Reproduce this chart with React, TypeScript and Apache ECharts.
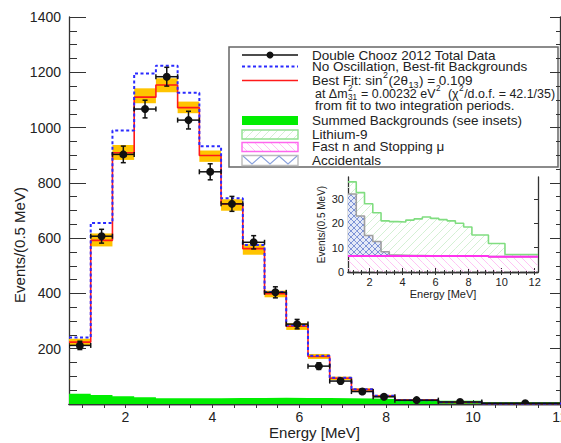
import React, { useEffect, useRef } from 'react';
import * as echarts from 'echarts';

// ---------- data ----------
const binEdges = [0.7, 1.2, 1.7, 2.2, 2.7, 3.2, 3.7, 4.2, 4.7, 5.2, 5.7, 6.2, 6.7, 7.2, 7.7, 8.2, 9.2, 10.2, 12.2];
const dataCenters = [0.95, 1.45, 1.95, 2.45, 2.95, 3.45, 3.95, 4.45, 4.95, 5.45, 5.95, 6.45, 6.95, 7.45, 7.95, 8.7, 9.7, 11.2];
const dataValues = [212, 607, 903, 1067, 1184, 1027, 840, 724, 585, 404, 289, 137, 83, 45, 26, 14, 7, 3];
const dataErrors = [15, 25, 30, 32, 34, 32, 29, 27, 24, 20, 17, 12, 9, 7, 5, 4, 3, 2];
const bestFit = [224, 592, 909, 1110, 1154, 1072, 899, 724, 562, 399, 281, 172, 93, 52, 29, 14, 6, 2];
const bandLow = [212, 570, 883, 1088, 1128, 1052, 876, 699, 540, 386, 268, 163, 87, 47, 26, 12, 5, 1.5];
const bandHigh = [236, 617, 937, 1142, 1178, 1094, 917, 741, 578, 410, 292, 181, 99, 57, 33, 16, 7, 2.5];
const noOscillation = [241, 655, 989, 1196, 1224, 1126, 932, 744, 575, 405, 285, 175, 95, 53, 30, 14, 6, 2];

// inset backgrounds (events / 0.5 MeV), stacked: fast n at bottom, accidentals, lithium-9 on top
const fastN = [6.6, 6.6, 6.6, 6.6, 6.6, 6.6, 6.6, 6.6, 6.6, 6.6, 6.6, 6.6, 6.6, 6.6, 6.6, 6.6, 6.3, 6.3];
const accidentals = [25.4, 16.4, 8.4, 5.9, 1.7, 0.4, 0.3, 0.2, 0.2, 0.1, 0.1, 0.1, 0.1, 0.1, 0, 0, 0, 0];
const lithium9 = [5.0, 9.6, 13.0, 11.8, 12.7, 13.7, 13.6, 14.5, 15.0, 15.9, 15.3, 14.8, 14.3, 13.3, 11.9, 8.6, 5.4, 0.9];

const mainXLabels = [2, 4, 6, 8, 10, 12];
const halfTicks = [1, 1.5, 2, 2.5, 3, 3.5, 4, 4.5, 5, 5.5, 6, 6.5, 7, 7.5, 8, 8.5, 9, 9.5, 10, 10.5, 11, 11.5, 12];
const insetYLabels = [0, 10, 20, 30];
const insetYTicks = [10, 20, 30];

const legendLabels = [
  'Double Chooz 2012 Total Data',
  'No Oscillation, Best-fit Backgrounds',
  'from fit to two integration periods.',
  'Summed Backgrounds (see insets)',
  'Lithium-9',
  'Fast n and Stopping μ',
  'Accidentals',
];

// ---------- helpers ----------
function stepPoints(edges: number[], values: number[]) {
  const pts: number[][] = [];
  for (let i = 0; i < values.length; i++) {
    pts.push([edges[i], values[i]]);
    pts.push([edges[i + 1], values[i]]);
  }
  return pts;
}

function makePattern(size: number, bg: string | null, color: string, dirs: number[], lw = 1) {
  const c = document.createElement('canvas');
  c.width = size;
  c.height = size;
  const ctx = c.getContext('2d')!;
  if (bg) {
    ctx.fillStyle = bg;
    ctx.fillRect(0, 0, size, size);
  }
  ctx.strokeStyle = color;
  ctx.lineWidth = lw;
  dirs.forEach((d) => {
    for (let k = -1; k <= 1; k++) {
      ctx.beginPath();
      if (d > 0) {
        ctx.moveTo(k * size, size);
        ctx.lineTo(k * size + size, 0);
      } else {
        ctx.moveTo(k * size, 0);
        ctx.lineTo(k * size + size, size);
      }
      ctx.stroke();
    }
  });
  return { image: c, repeat: 'repeat', imageWidth: size, imageHeight: size } as any;
}

const FONT = 'Liberation Sans, Arial, Helvetica, sans-serif';
const TXT = '#222';

// build a line of text with super/subscripts as separate text elements
type Piece = { t?: string; sup?: string; sub?: string };
function formulaLine(pieces: Piece[], x0: number, y: number, size: number, maxWidth: number) {
  const ctx = document.createElement('canvas').getContext('2d')!;
  const w = (t: string, s: number) => {
    ctx.font = `${s}px ${FONT}`;
    return ctx.measureText(t).width;
  };
  const total = (sz: number) => {
    const sm = sz * 0.66;
    let tw = 0;
    pieces.forEach((p) => {
      if (p.t) tw += w(p.t, sz);
      else tw += Math.max(p.sup ? w(p.sup, sm) : 0, p.sub ? w(p.sub, sm) : 0) + 1;
    });
    return tw;
  };
  let sz = size;
  const tw = total(sz);
  if (tw > maxWidth) sz = (size * maxWidth) / tw;
  const sm = sz * 0.66;
  const els: any[] = [];
  let x = x0;
  pieces.forEach((p) => {
    if (p.t) {
      els.push({ type: 'text', x, y, style: { text: p.t, fontSize: sz, fontFamily: FONT, fill: TXT, align: 'left', verticalAlign: 'middle' } });
      x += w(p.t, sz);
    } else {
      if (p.sup) els.push({ type: 'text', x: x + 0.5, y: y - sz * 0.38, style: { text: p.sup, fontSize: sm, fontFamily: FONT, fill: TXT, align: 'left', verticalAlign: 'middle' } });
      if (p.sub) els.push({ type: 'text', x: x + 0.5, y: y + sz * 0.36, style: { text: p.sub, fontSize: sm, fontFamily: FONT, fill: TXT, align: 'left', verticalAlign: 'middle' } });
      x += Math.max(p.sup ? w(p.sup, sm) : 0, p.sub ? w(p.sub, sm) : 0) + 1;
    }
  });
  return els;
}

export default function App() {
  const ref = useRef<HTMLDivElement>(null);

  useEffect(() => {
    const chart = echarts.init(ref.current!, undefined, { renderer: 'svg' });

    const li9Pattern = makePattern(8, null, '#d4f0d4', [1]);
    const pinkPattern = makePattern(8, null, '#ffc4f4', [-1]);
    const accPattern = makePattern(6, '#e4e9f7', '#7d93d6', [1, -1]);

    const summedBg = fastN.map((f, i) => f + accidentals[i] + lithium9[i]);
    const accTop = fastN.map((f, i) => f + accidentals[i]);

    const rectSeries = (lo: number[], hi: number[], fill: any, xi: number, yi: number, z: number) => ({
      type: 'custom',
      xAxisIndex: xi,
      yAxisIndex: yi,
      z,
      silent: true,
      clip: true,
      data: lo.map((l, i) => [binEdges[i], binEdges[i + 1], l, hi[i]]),
      encode: { x: [0, 1], y: [2, 3] },
      renderItem: (params: any, api: any) => {
        const p0 = api.coord([api.value(0), api.value(3)]);
        const p1 = api.coord([api.value(1), api.value(2)]);
        return {
          type: 'rect',
          shape: { x: p0[0], y: p0[1], width: p1[0] - p0[0], height: p1[1] - p0[1] },
          style: { fill },
        };
      },
    });

    const axisLine = { show: true, lineStyle: { color: '#333', width: 1.3 } };
    const noSplit = { show: false };

    const row3 = formulaLine(
      [{ t: 'Best Fit: sin' }, { sup: '2' }, { t: '(2θ' }, { sub: '13' }, { t: ') = 0.109' }],
      312, 80.5, 13.5, 240,
    );
    const row4 = formulaLine(
      [
        { t: 'at Δm' }, { sup: '2', sub: '31' }, { t: ' = 0.00232 eV' }, { sup: '2' },
        { t: '  (χ' }, { sup: '2' }, { t: '/d.o.f. = 42.1/35)' },
      ],
      315, 93.5, 13.5, 240,
    );

    const legendText = (t: string, x: number, y: number) => ({
      type: 'text', x, y,
      style: { text: t, fontSize: 13.5, fontFamily: FONT, fill: TXT, align: 'left', verticalAlign: 'middle' },
    });

    const option: any = {
      animation: false,
      backgroundColor: '#fff',
      textStyle: { fontFamily: FONT },
      grid: [
        { left: 69, top: 17, right: 1, bottom: 39, containLabel: false, outerBoundsMode: 'none' },
        { left: 348, top: 177, width: 190, height: 95, containLabel: false, outerBoundsMode: 'none' },
      ],
      xAxis: [
        {
          gridIndex: 0, type: 'value', position: 'bottom', min: 0.7, max: 12,
          axisLine, splitLine: noSplit,
          axisTick: { show: true, inside: true, length: 4, customValues: mainXLabels, lineStyle: { color: '#333' } },
          axisLabel: { customValues: mainXLabels, fontSize: 14, color: TXT, margin: 6, fontFamily: FONT },
          name: 'Energy [MeV]', nameLocation: 'middle', nameGap: 21, nameMoveOverlap: false,
          nameTextStyle: { fontSize: 15, color: TXT, fontFamily: FONT },
        },
        {
          gridIndex: 0, type: 'value', position: 'top', min: 0.7, max: 12,
          axisLine, splitLine: noSplit,
          axisTick: { show: true, inside: true, length: 4, customValues: halfTicks, lineStyle: { color: '#333' } },
          axisLabel: { show: false },
        },
        {
          gridIndex: 1, type: 'value', position: 'bottom', min: 0.7, max: 12.2,
          axisLine, splitLine: noSplit,
          axisTick: { show: true, inside: true, length: 4, customValues: mainXLabels, lineStyle: { color: '#333' } },
          axisLabel: { customValues: mainXLabels, fontSize: 11, color: TXT, margin: 4, fontFamily: FONT },
          name: 'Energy [MeV]', nameLocation: 'middle', nameGap: 16, nameMoveOverlap: false,
          nameTextStyle: { fontSize: 11, color: TXT, fontFamily: FONT },
        },
        {
          gridIndex: 1, type: 'value', position: 'top', min: 0.7, max: 12.2,
          axisLine, splitLine: noSplit,
          axisTick: { show: true, inside: true, length: 3, customValues: halfTicks, lineStyle: { color: '#333' } },
          axisLabel: { show: false },
        },
        {
          gridIndex: 1, type: 'value', position: 'bottom', min: 0.7, max: 12.2,
          axisLine: { show: false }, splitLine: noSplit,
          axisTick: { show: true, inside: true, length: 2, customValues: halfTicks, lineStyle: { color: '#333' } },
          axisLabel: { show: false },
        },
      ],
      yAxis: [
        {
          gridIndex: 0, type: 'value', position: 'left', min: 0, max: 1400, interval: 200,
          axisLine, splitLine: noSplit,
          axisTick: { show: true, inside: true, length: 17, lineStyle: { color: '#333' } },
          minorTick: { show: true, splitNumber: 4, length: 8, lineStyle: { color: '#333' } },
          axisLabel: { fontSize: 14, color: TXT, margin: 8, fontFamily: FONT, formatter: (v: number) => (v === 0 ? '' : String(v)) },
        },
        {
          gridIndex: 0, type: 'value', position: 'right', min: 0, max: 1400, interval: 200,
          axisLine, splitLine: noSplit,
          axisTick: { show: true, inside: true, length: 10, lineStyle: { color: '#333' } },
          minorTick: { show: true, splitNumber: 4, length: 4, lineStyle: { color: '#333' } },
          axisLabel: { show: false },
        },
        {
          gridIndex: 1, type: 'value', position: 'left', min: 0, max: 39,
          axisLine, splitLine: noSplit,
          axisTick: { show: true, inside: true, length: 4, customValues: insetYTicks, lineStyle: { color: '#333' } },
          axisLabel: { customValues: insetYLabels, fontSize: 11, color: TXT, margin: 4, fontFamily: FONT },
          name: 'Events/(0.5 MeV)', nameLocation: 'middle', nameGap: 22, nameMoveOverlap: false,
          nameTextStyle: { fontSize: 10, color: TXT, fontFamily: FONT },
        },
        {
          gridIndex: 1, type: 'value', position: 'right', min: 0, max: 39,
          axisLine, splitLine: noSplit,
          axisTick: { show: true, inside: true, length: 4, customValues: insetYTicks, lineStyle: { color: '#333' } },
          axisLabel: { show: false },
        },
      ],
      series: [
        {
          type: 'line', xAxisIndex: 0, yAxisIndex: 0, z: 1, silent: true,
          data: stepPoints(binEdges, summedBg), symbol: 'none',
          lineStyle: { width: 0 }, areaStyle: { color: '#00ee00', opacity: 1 },
        },
        rectSeries(bandLow, bandHigh, '#ffc400', 0, 0, 2),
        {
          type: 'line', xAxisIndex: 0, yAxisIndex: 0, z: 3, silent: true,
          data: stepPoints(binEdges, bestFit), symbol: 'none',
          lineStyle: { color: '#ff1a1a', width: 1.6 },
        },
        {
          type: 'line', xAxisIndex: 0, yAxisIndex: 0, z: 4, silent: true,
          data: stepPoints(binEdges, noOscillation), symbol: 'none',
          lineStyle: { color: '#2a2aff', width: 2, type: [3, 2.5] },
        },
        {
          type: 'custom', xAxisIndex: 0, yAxisIndex: 0, z: 5, silent: true, clip: true,
          data: dataValues.map((v, i) => [dataCenters[i], v, binEdges[i], binEdges[i + 1], dataErrors[i]]),
          encode: { x: 0, y: 1 },
          renderItem: (params: any, api: any) => {
            const xc = api.value(0), v = api.value(1), x0 = api.value(2), x1 = api.value(3), e = api.value(4);
            const pc = api.coord([xc, v]);
            const pl = api.coord([x0, v]);
            const pr = api.coord([x1, v]);
            const pt = api.coord([xc, v + e]);
            const pb = api.coord([xc, v - e]);
            const st = { stroke: '#111', lineWidth: 1.5 };
            const cap = 2.5;
            return {
              type: 'group',
              children: [
                { type: 'line', shape: { x1: pl[0], y1: pl[1], x2: pr[0], y2: pr[1] }, style: st },
                { type: 'line', shape: { x1: pl[0], y1: pl[1] - cap, x2: pl[0], y2: pl[1] + cap }, style: st },
                { type: 'line', shape: { x1: pr[0], y1: pr[1] - cap, x2: pr[0], y2: pr[1] + cap }, style: st },
                { type: 'line', shape: { x1: pt[0], y1: pt[1], x2: pb[0], y2: pb[1] }, style: st },
                { type: 'line', shape: { x1: pt[0] - cap, y1: pt[1], x2: pt[0] + cap, y2: pt[1] }, style: st },
                { type: 'line', shape: { x1: pb[0] - cap, y1: pb[1], x2: pb[0] + cap, y2: pb[1] }, style: st },
                { type: 'circle', shape: { cx: pc[0], cy: pc[1], r: 4 }, style: { fill: '#111' } },
              ],
            };
          },
        },
        rectSeries(fastN.map(() => 0), fastN, pinkPattern, 2, 2, 1),
        rectSeries(fastN, accTop, accPattern, 2, 2, 1),
        rectSeries(accTop, summedBg, li9Pattern, 2, 2, 1),
        {
          type: 'line', xAxisIndex: 2, yAxisIndex: 2, z: 3, silent: true,
          data: stepPoints(binEdges, summedBg), symbol: 'none',
          lineStyle: { color: '#80dd80', width: 1.6 },
        },
        {
          type: 'line', xAxisIndex: 2, yAxisIndex: 2, z: 3, silent: true,
          data: stepPoints(binEdges, accTop), symbol: 'none',
          lineStyle: { color: '#a0a0a0', width: 1.6 },
        },
        {
          type: 'line', xAxisIndex: 2, yAxisIndex: 2, z: 4, silent: true,
          data: stepPoints(binEdges, fastN), symbol: 'none',
          lineStyle: { color: '#ff33ee', width: 2 },
        },
      ],
      graphic: [
        {
          type: 'text', x: 19, y: 245, rotation: Math.PI / 2, z: 50,
          style: { text: 'Events/(0.5 MeV)', fontSize: 15, fontFamily: FONT, fill: TXT, align: 'center', verticalAlign: 'middle' },
        },
        {
          type: 'group', z: 100,
          children: [
            { type: 'rect', shape: { x: 229, y: 47, width: 329, height: 120 }, style: { fill: '#fff', stroke: '#666', lineWidth: 1.5 } },
            { type: 'line', shape: { x1: 242, y1: 55, x2: 298, y2: 55 }, style: { stroke: '#111', lineWidth: 1.6 } },
            { type: 'circle', shape: { cx: 270, cy: 55, r: 3.5 }, style: { fill: '#111' } },
            { type: 'line', shape: { x1: 242, y1: 66.5, x2: 298, y2: 66.5 }, style: { stroke: '#2a2aff', lineWidth: 2, lineDash: [3, 2.5] } },
            { type: 'line', shape: { x1: 242, y1: 80.5, x2: 298, y2: 80.5 }, style: { stroke: '#ff1a1a', lineWidth: 1.6 } },
            { type: 'rect', shape: { x: 242, y: 116, width: 56, height: 9 }, style: { fill: '#00ee00' } },
            { type: 'rect', shape: { x: 242, y: 130, width: 56, height: 9 }, style: { fill: li9Pattern, stroke: '#90e090', lineWidth: 1.4 } },
            { type: 'rect', shape: { x: 242, y: 142.5, width: 56, height: 9 }, style: { fill: pinkPattern, stroke: '#ff66ee', lineWidth: 1.4 } },
            { type: 'rect', shape: { x: 242, y: 155.5, width: 56, height: 10 }, style: { fill: '#fff', stroke: '#bbbbbb', lineWidth: 1.4 } },
            { type: 'polyline', shape: { points: [[243, 156], [252, 164], [261, 156], [270, 164], [279, 156], [288, 164], [297, 156]] }, style: { stroke: '#8aa2dc', lineWidth: 1.1, fill: 'none' } },
            legendText(legendLabels[0], 312, 55),
            legendText(legendLabels[1], 312, 66.5),
            ...row3,
            ...row4,
            legendText(legendLabels[2], 315, 105.5),
            legendText(legendLabels[3], 312, 120.5),
            legendText(legendLabels[4], 312, 134.5),
            legendText(legendLabels[5], 312, 146.5),
            legendText(legendLabels[6], 312, 160),
          ],
        },
      ],
    };

    chart.setOption(option);
    return () => chart.dispose();
  }, []);

  return (
    <div
      ref={ref}
      style={{ position: 'fixed', left: 0, top: 0, width: 561, height: 443, background: '#fff' }}
    />
  );
}
